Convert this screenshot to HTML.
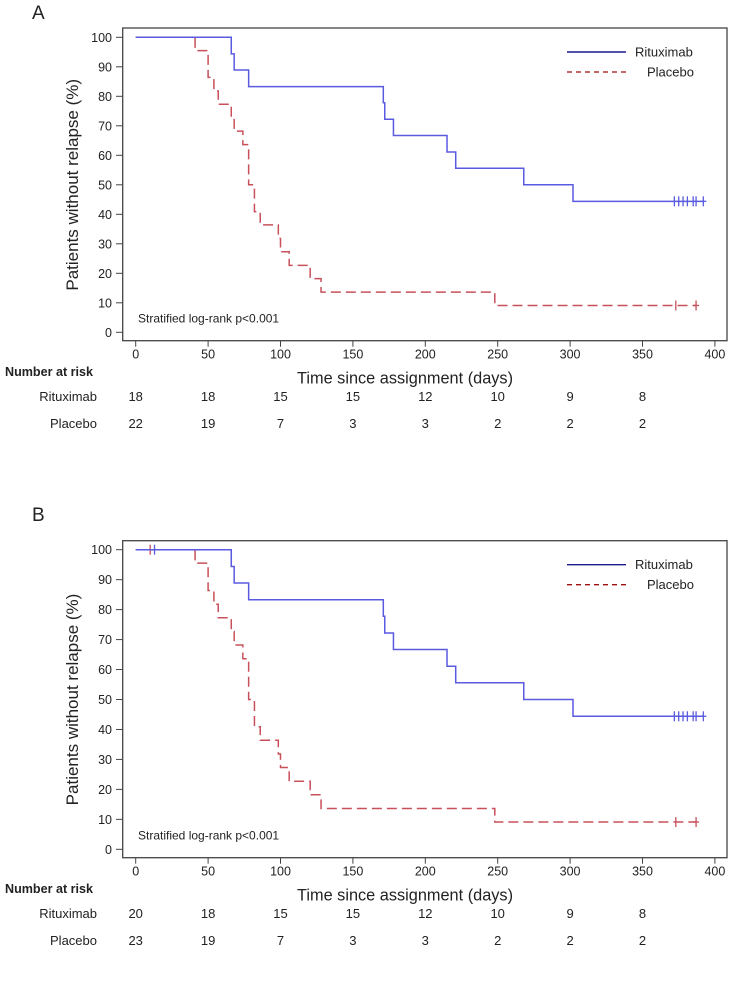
<!DOCTYPE html>
<html><head><meta charset="utf-8"><style>
body{margin:0;background:#fff}
svg text{font-family:"Liberation Sans",Arial,sans-serif;fill:#222}
</style></head><body>
<svg id="s" width="734" height="980" xmlns="http://www.w3.org/2000/svg"></svg>
<script>
const ticksX=[0,50,100,150,200,250,300,350,400];
const ticksY=[0,10,20,30,40,50,60,70,80,90,100];
const ritTimes=[0,66,68,78,171,172,178,215,221,268,302,392];
const ritSurv=[100,94.4,88.9,83.3,77.8,72.2,66.7,61.1,55.6,50,44.4,44.4];
const plaTimes=[0,41,50,54,57,66,68,74,78,82,86,98.5,100,106,120.5,128,248,387];
const plaSurv=[100,95.5,86.4,81.8,77.3,72.7,68.2,63.6,50,40.9,36.4,31.8,27.3,22.7,18.2,13.6,9.1,9.1];
const ritCensorA=[372,375,378,381,385,387,392];
const plaCensorA=[373,387];
const ritCensorB=[13,372,375,378,381,385,387,392];
const plaCensorB=[10,373,387];
const riskTimes=[0,50,100,150,200,250,300,350];
const riskRitA=[18,18,15,15,12,10,9,8];
const riskPlaA=[22,19,7,3,3,2,2,2];
const riskRitB=[20,18,15,15,12,10,9,8];
const riskPlaB=[23,19,7,3,3,2,2,2];

const NS="http://www.w3.org/2000/svg";
const svg=document.getElementById('s');
function mk(tag,attrs,parent,text){const e=document.createElementNS(NS,tag);for(const k in attrs)e.setAttribute(k,attrs[k]);if(text!==undefined)e.textContent=text;(parent||svg).appendChild(e);return e;}

function panel(P){
  const g=mk('g',{});
  
  
  const X=d=>135.7+1.448*d;
  const Y=v=>P.y0-(P.y0-P.y100)*v/100;
  const t=mk('text',{x:32,y:P.labelY,'font-size':19},g,P.id.toUpperCase());
  
  const box=mk('rect',{x:122.7,y:P.top,width:604.3,height:P.bottom-P.top,fill:'none',stroke:'#444','stroke-width':1.3},g);
  
  ticksX.forEach(v=>{
    mk('line',{x1:X(v),x2:X(v),y1:P.bottom,y2:P.bottom+6,stroke:'#444'},g);
    const l=mk('text',{x:X(v),y:P.bottom+18,'font-size':12.5,'text-anchor':'middle'},g,v);
    
  });
  ticksY.forEach(v=>{
    mk('line',{x1:116,x2:122.7,y1:Y(v),y2:Y(v),stroke:'#444'},g);
    const l=mk('text',{x:112,y:Y(v)+4.5,'font-size':12.5,'text-anchor':'end'},g,v);
    
  });
  const yc=(P.y0+P.y100)/2;
  const yl=mk('text',{x:0,y:0,'font-size':17,'text-anchor':'middle',transform:`translate(78,${yc}) rotate(-90)`},g,'Patients without relapse (%)');
  
  const xl=mk('text',{x:405,y:P.bottom+43,'font-size':16.5,'text-anchor':'middle',textLength:216,lengthAdjust:'spacingAndGlyphs'},g,'Time since assignment (days)');
  
  const st=mk('text',{x:138,y:Y(0)-10,'font-size':12},g,'Stratified log-rank  p<0.001');
  
  function curve(times,surv,color,dash,name,cens){
    let d=`M${X(times[0])},${Y(surv[0])}`;
    for(let i=1;i<times.length;i++){d+=` H${X(times[i])} V${Y(surv[i])}`;}
    const p=mk('path',{d:d,fill:'none',stroke:color,'stroke-width':1.5},g);
    if(dash)p.setAttribute('stroke-dasharray',dash);
    
    cens.forEach(c=>{
      let s=surv[0];for(let i=0;i<times.length;i++){if(times[i]<=c)s=surv[i];}
      const m=mk('line',{x1:X(c),x2:X(c),y1:Y(s)-5,y2:Y(s)+5,stroke:color,'stroke-width':1.3},g);
      
    });
    mk('line',{x1:X(cens[cens.length-1])-3,x2:X(cens[cens.length-1])+3,y1:Y(surv[surv.length-1]),y2:Y(surv[surv.length-1]),stroke:color,'stroke-width':1.3},g);
  }
  curve(plaTimes,plaSurv,'#c8505a','10,5','placebo',P.plaC);
  curve(ritTimes,ritSurv,'#5a5ae0',null,'rituximab',P.ritC);
  const ly=P.top+24;
  const l1=mk('line',{x1:567,x2:626,y1:ly,y2:ly,stroke:'#1a1a90','stroke-width':1.4},g);
  
  const l2=mk('line',{x1:567,x2:626,y1:ly+20,y2:ly+20,stroke:'#a01010','stroke-width':1.3,'stroke-dasharray':'5,4'},g);
  
  const t1=mk('text',{x:635,y:ly+4.5,'font-size':13},g,'Rituximab');
  
  const t2=mk('text',{x:647,y:ly+24.5,'font-size':13},g,'Placebo');
  
  const nr=mk('text',{x:5,y:P.riskY,'font-size':13,'font-weight':'bold',textLength:88,lengthAdjust:'spacingAndGlyphs'},g,'Number at risk');
  
  [['Rituximab',P.riskR,P.riskY+25],['Placebo',P.riskP,P.riskY+52]].forEach(([lab,arr,y])=>{
    const tl=mk('text',{x:97,y:y,'font-size':13,'text-anchor':'end'},g,lab);
    
    arr.forEach((v,i)=>{
      const n=mk('text',{x:X(riskTimes[i]),y:y,'font-size':13,'text-anchor':'middle'},g,v);
      
    });
  });
}
panel({id:'a',labelY:19,top:28,bottom:340.7,y100:37.3,y0:332.3,ritC:ritCensorA,plaC:plaCensorA,riskR:riskRitA,riskP:riskPlaA,riskY:376});
panel({id:'b',labelY:521,top:540.7,bottom:857.7,y100:549.7,y0:849.3,ritC:ritCensorB,plaC:plaCensorB,riskR:riskRitB,riskP:riskPlaB,riskY:893});
</script>
</body></html>
